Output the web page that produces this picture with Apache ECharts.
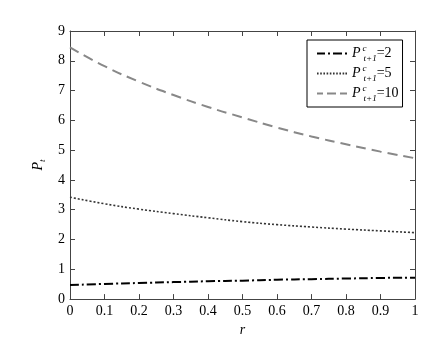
<!DOCTYPE html>
<html>
<head>
<meta charset="utf-8">
<script src="https://cdn.jsdelivr.net/npm/echarts@6/dist/echarts.min.js"></script>
<style>
  html, body { margin: 0; padding: 0; background: #fff; }
  #main { width: 431px; height: 342px; }
</style>
</head>
<body>
<div id="main"></div>
<script>
// r values along the x axis
var rValues = [0, 0.1, 0.2, 0.3, 0.4, 0.5, 0.6, 0.7, 0.8, 0.9, 1];
// P_t, one array per expected price
var pt2 = [0.47, 0.51, 0.54, 0.57, 0.60, 0.62, 0.65, 0.67, 0.69, 0.71, 0.72];
var pt5 = [3.42, 3.20, 3.02, 2.87, 2.73, 2.60, 2.50, 2.42, 2.35, 2.29, 2.23];
var pt10 = [8.45, 7.82, 7.30, 6.85, 6.45, 6.10, 5.76, 5.46, 5.20, 4.95, 4.73];
var legendNames = ['2', '5', '10'];

function pairs(ys) {
  return rValues.map(function (r, i) { return [r, ys[i]]; });
}

var serifFont = '"Liberation Serif", "Times New Roman", serif';
var axisColor = '#444';

// legend glyphs drawn as little rectangles (30 x 2 units)
var iconDashDot = 'path://M0,0h8v2h-8zM11,0h2v2h-2zM16,0h9v2h-9zM28,0h2v2h-2z';
var iconDot = 'path://M0,0h1.6v2h-1.6zM3.2,0h1.6v2h-1.6zM6.4,0h1.6v2h-1.6zM9.6,0h1.6v2h-1.6zM12.8,0h1.6v2h-1.6zM16,0h1.6v2h-1.6zM19.2,0h1.6v2h-1.6zM22.4,0h1.6v2h-1.6zM25.6,0h1.6v2h-1.6zM28.4,0h1.6v2h-1.6z';
var iconDash = 'path://M0,0h6v2h-6zM10,0h9v2h-9zM23,0h7v2h-7z';

var chart = echarts.init(document.getElementById('main'), null, { renderer: 'canvas' });

var richLegend = {
  p: { fontFamily: serifFont, fontStyle: 'italic', fontSize: 14, color: '#000', lineHeight: 19, verticalAlign: 'middle' },
  sup: { fontFamily: serifFont, fontStyle: 'italic', fontSize: 9, color: '#000', lineHeight: 19, verticalAlign: 'top', width: 1, padding: [0, 0, 0, 2] },
  sub: { fontFamily: serifFont, fontStyle: 'italic', fontSize: 9, color: '#000', lineHeight: 19, verticalAlign: 'bottom' },
  n: { fontFamily: serifFont, fontSize: 14, color: '#000', lineHeight: 19, verticalAlign: 'middle' }
};

function baseAxis(extra) {
  var a = {
    axisLine: { show: true, onZero: false, lineStyle: { color: axisColor, width: 1 } },
    axisTick: { show: true, inside: true, length: 5, lineStyle: { color: axisColor } },
    splitLine: { show: false }
  };
  for (var k in extra) a[k] = extra[k];
  return a;
}

var option = {
  animation: false,
  backgroundColor: '#fff',
  grid: { left: 70, right: 16, top: 31, bottom: 37 },
  legend: {
    orient: 'vertical',
    left: 307,
    top: 40,
    padding: [4, 4, 4, 10],
    itemGap: 1,
    itemWidth: 30,
    itemHeight: 2,
    borderColor: '#000',
    borderWidth: 1,
    backgroundColor: '#fff',
    itemStyle: { borderWidth: 0 },
    lineStyle: { width: 0 },
    data: [
      { name: legendNames[0], icon: iconDashDot },
      { name: legendNames[1], icon: iconDot },
      { name: legendNames[2], icon: iconDash }
    ],
    formatter: function (name) {
      return '{p|P}{sup|c}{sub|t+1}{n|=' + name + '}';
    },
    textStyle: { rich: richLegend }
  },
  xAxis: [
    baseAxis({
      type: 'value', min: 0, max: 1, interval: 0.1,
      name: 'r', nameLocation: 'middle', nameGap: 22,
      nameTextStyle: { fontFamily: serifFont, fontStyle: 'italic', fontSize: 14, color: '#000' },
      axisLabel: { fontFamily: serifFont, fontSize: 14, color: '#000', margin: 5,
        formatter: function (v) { return String(Math.round(v * 10) / 10); } }
    }),
    baseAxis({ type: 'value', min: 0, max: 1, interval: 0.1, position: 'top', axisLabel: { show: false } })
  ],
  yAxis: [
    baseAxis({
      type: 'value', min: 0, max: 9, interval: 1,
      name: '{p|P}{s|t}', nameLocation: 'middle', nameGap: 19, nameRotate: 90,
      nameTextStyle: { rich: {
        p: { fontFamily: serifFont, fontStyle: 'italic', fontSize: 14, color: '#000', lineHeight: 18, verticalAlign: 'middle' },
        s: { fontFamily: serifFont, fontStyle: 'italic', fontSize: 9, color: '#000', lineHeight: 18, verticalAlign: 'bottom' }
      } },
      axisLabel: { fontFamily: serifFont, fontSize: 14, color: '#000', margin: 5 }
    }),
    baseAxis({ type: 'value', min: 0, max: 9, interval: 1, position: 'right', axisLabel: { show: false } })
  ],
  series: [
    {
      name: '2', type: 'line', data: pairs(pt2), smooth: true, symbol: 'none',
      lineStyle: { color: '#000', width: 2, type: [9, 3, 2, 3] }, itemStyle: { color: '#000' }
    },
    {
      name: '5', type: 'line', data: pairs(pt5), smooth: true, symbol: 'none',
      lineStyle: { color: '#333', width: 1.6, type: [2, 2] }, itemStyle: { color: '#333' }
    },
    {
      name: '10', type: 'line', data: pairs(pt10), smooth: true, symbol: 'none',
      lineStyle: { color: '#888', width: 2, type: [10, 6] }, itemStyle: { color: '#888' }
    }
  ]
};

chart.setOption(option);
</script>
</body>
</html>
